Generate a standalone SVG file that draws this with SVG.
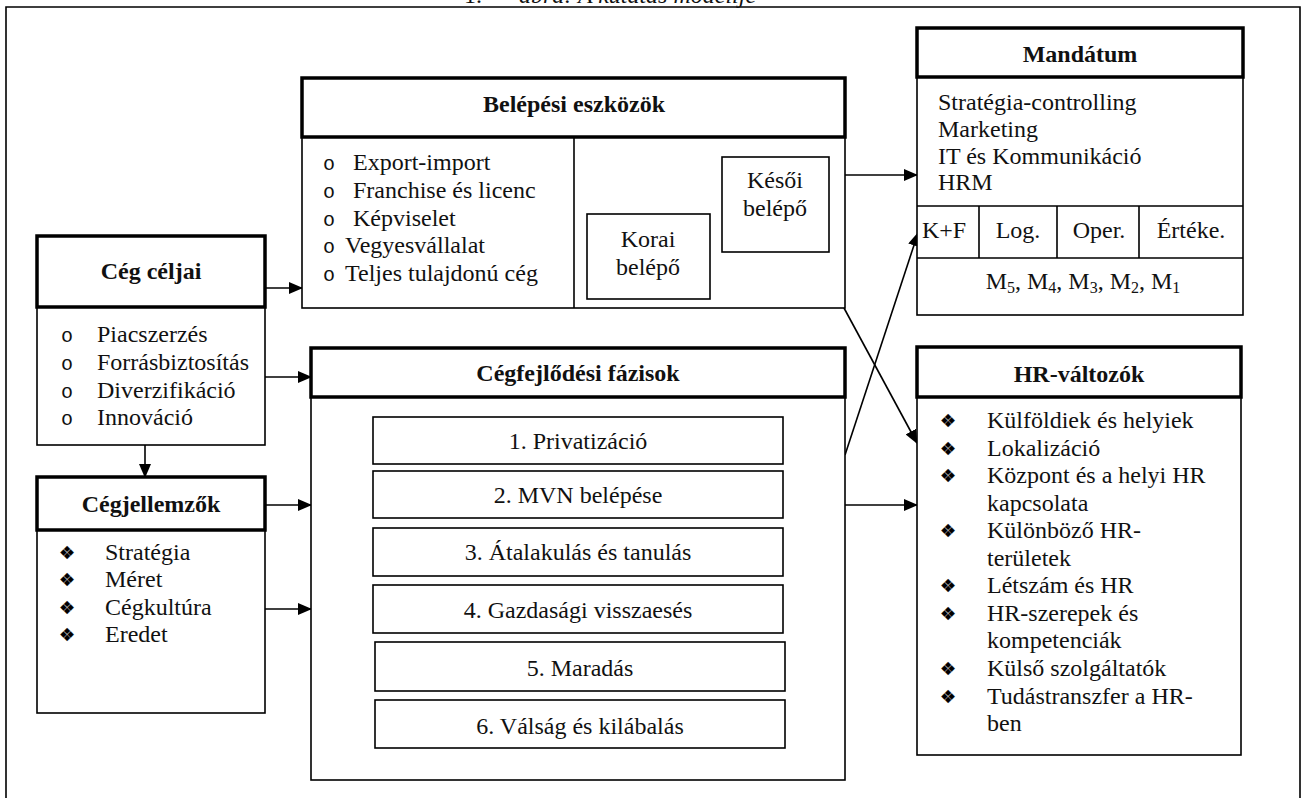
<svg xmlns="http://www.w3.org/2000/svg" width="1302" height="798" viewBox="0 0 1302 798">
<defs>
<marker id="ah" markerUnits="userSpaceOnUse" markerWidth="14" markerHeight="12" refX="13" refY="6" orient="auto">
<path d="M0,0 L14,6 L0,12 Z" fill="#000"/>
</marker>
<style>
text{font-family:"Liberation Serif","Times New Roman",serif;font-size:24px;fill:#111}
.b{font-weight:bold}
.c{text-anchor:middle}
.hd{fill:#fff;stroke:#000;stroke-width:3.5}
.bd{fill:#fff;stroke:#000;stroke-width:1.6}
.ln{fill:none;stroke:#000;stroke-width:1.6}
.cn{fill:none;stroke:#000;stroke-width:1.6;marker-end:url(#ah)}
.o{font-family:"Liberation Mono","Courier New",monospace;font-size:20px}
.d{font-family:"DejaVu Sans",sans-serif;font-size:18px;fill:#000;stroke:#000;stroke-width:0.3}
</style>
</defs>
<rect width="1302" height="798" fill="#fff"/>
<g id="frame">
<path class="ln" d="M6,810 L6,7 L1300,7 L1300,810"/>
<text x="464" y="2.5" font-size="26">1.</text>
<text x="519" y="2.5" font-size="26" font-style="italic">ábra: A kutatás modellje</text>
</g>
<g id="connectors">
<line class="cn" x1="265" y1="288" x2="302" y2="288"/>
<line class="cn" x1="265" y1="377" x2="311" y2="377"/>
<line class="cn" x1="145" y1="445" x2="145" y2="477"/>
<line class="cn" x1="265" y1="505" x2="311" y2="505"/>
<line class="cn" x1="265" y1="609" x2="311" y2="609"/>
<line class="cn" x1="664" y1="214" x2="722" y2="173"/>
<line class="cn" x1="845" y1="175" x2="917" y2="175"/>
<line class="cn" x1="845" y1="455" x2="918" y2="233"/>
<line class="cn" x1="844" y1="308" x2="917" y2="443"/>
<line class="cn" x1="845" y1="505" x2="917" y2="505"/>
</g>
<g id="ceg-celjai">
<rect class="bd" x="37" y="307" width="228" height="138"/>
<rect class="hd" x="37" y="236" width="228" height="71"/>
<text class="b c" x="151" y="279">Cég céljai</text>
<text class="o" x="61" y="342">o</text><text x="97" y="342">Piacszerzés</text>
<text class="o" x="61" y="370">o</text><text x="97" y="370">Forrásbiztosítás</text>
<text class="o" x="61" y="398">o</text><text x="97" y="398">Diverzifikáció</text>
<text class="o" x="61" y="425">o</text><text x="97" y="425">Innováció</text>
</g>
<g id="cegjellemzok">
<rect class="bd" x="37" y="530" width="228" height="183"/>
<rect class="hd" x="37" y="477" width="228" height="53"/>
<text class="b c" x="151" y="512">Cégjellemzők</text>
<text class="d" x="59" y="559">❖</text><text x="105" y="560">Stratégia</text>
<text class="d" x="59" y="586">❖</text><text x="105" y="587">Méret</text>
<text class="d" x="59" y="614">❖</text><text x="105" y="615">Cégkultúra</text>
<text class="d" x="59" y="641">❖</text><text x="105" y="642">Eredet</text>
</g>
<g id="belepesi-eszkozok">
<rect class="bd" x="302" y="137" width="543" height="171"/>
<line class="ln" x1="574" y1="137" x2="574" y2="308"/>
<rect class="hd" x="302" y="78" width="543" height="59"/>
<text class="b c" x="574" y="112">Belépési eszközök</text>
<text class="o" x="323" y="170">o</text><text x="353" y="170">Export-import</text>
<text class="o" x="323" y="198">o</text><text x="353" y="198">Franchise és licenc</text>
<text class="o" x="323" y="226">o</text><text x="353" y="226">Képviselet</text>
<text class="o" x="323" y="253">o</text><text x="345" y="253">Vegyesvállalat</text>
<text class="o" x="323" y="281">o</text><text x="345" y="281">Teljes tulajdonú cég</text>
</g>
<g id="korai-belepo">
<rect class="bd" x="587" y="214" width="123" height="85"/>
<text class="c" x="648" y="247">Korai</text>
<text class="c" x="648" y="275">belépő</text>
</g>
<g id="kesoi-belepo">
<rect class="bd" x="722" y="157" width="107" height="95"/>
<text class="c" x="775" y="188">Késői</text>
<text class="c" x="775" y="216">belépő</text>
</g>
<g id="mandatum">
<rect class="bd" x="917" y="77" width="326" height="238"/>
<rect class="hd" x="917" y="28" width="326" height="49"/>
<text class="b c" x="1080" y="62">Mandátum</text>
<text x="938" y="110">Stratégia-controlling</text>
<text x="938" y="137">Marketing</text>
<text x="938" y="164">IT és Kommunikáció</text>
<text x="938" y="190">HRM</text>
<path class="ln" d="M917,206 H1243 M917,258 H1243 M979,206 V258 M1057,206 V258 M1139,206 V258"/>
<text x="922" y="238">K+F</text>
<text class="c" x="1018" y="238">Log.</text>
<text class="c" x="1099" y="238">Oper.</text>
<text class="c" x="1191" y="238">Értéke.</text>
<text class="c" x="1083" y="289">M<tspan dy="4" font-size="16">5</tspan><tspan dy="-4">, M</tspan><tspan dy="4" font-size="16">4</tspan><tspan dy="-4">, M</tspan><tspan dy="4" font-size="16">3</tspan><tspan dy="-4">, M</tspan><tspan dy="4" font-size="16">2</tspan><tspan dy="-4">, M</tspan><tspan dy="4" font-size="16">1</tspan></text>
</g>
<g id="cegfejlodesi-fazisok">
<rect class="bd" x="311" y="397" width="534" height="383"/>
<rect class="hd" x="311" y="348" width="534" height="49"/>
<text class="b c" x="578" y="381">Cégfejlődési fázisok</text>
<rect class="bd" x="373" y="417" width="410" height="47"/>
<text class="c" x="578" y="449">1. Privatizáció</text>
<rect class="bd" x="373" y="471" width="410" height="47"/>
<text class="c" x="578" y="503">2. MVN belépése</text>
<rect class="bd" x="373" y="528" width="410" height="48"/>
<text class="c" x="578" y="560">3. Átalakulás és tanulás</text>
<rect class="bd" x="373" y="585" width="410" height="48"/>
<text class="c" x="578" y="618">4. Gazdasági visszaesés</text>
<rect class="bd" x="375" y="642" width="410" height="49"/>
<text class="c" x="580" y="676">5. Maradás</text>
<rect class="bd" x="375" y="700" width="410" height="48"/>
<text class="c" x="580" y="734">6. Válság és kilábalás</text>
</g>
<g id="hr-valtozok">
<rect class="bd" x="917" y="397" width="324" height="358"/>
<rect class="hd" x="917" y="347" width="324" height="50"/>
<text class="b c" x="1079" y="382">HR-változók</text>
<text class="d" x="940" y="427">❖</text><text x="987" y="428">Külföldiek és helyiek</text>
<text class="d" x="940" y="455">❖</text><text x="987" y="456">Lokalizáció</text>
<text class="d" x="940" y="482">❖</text><text x="987" y="483">Központ és a helyi HR</text>
<text x="987" y="511">kapcsolata</text>
<text class="d" x="940" y="537">❖</text><text x="987" y="538">Különböző HR-</text>
<text x="987" y="566">területek</text>
<text class="d" x="940" y="592">❖</text><text x="987" y="593">Létszám és HR</text>
<text class="d" x="940" y="620">❖</text><text x="987" y="621">HR-szerepek és</text>
<text x="987" y="648">kompetenciák</text>
<text class="d" x="940" y="675">❖</text><text x="987" y="676">Külső szolgáltatók</text>
<text class="d" x="940" y="703">❖</text><text x="987" y="704">Tudástranszfer a HR-</text>
<text x="987" y="731">ben</text>
</g>
</svg>
